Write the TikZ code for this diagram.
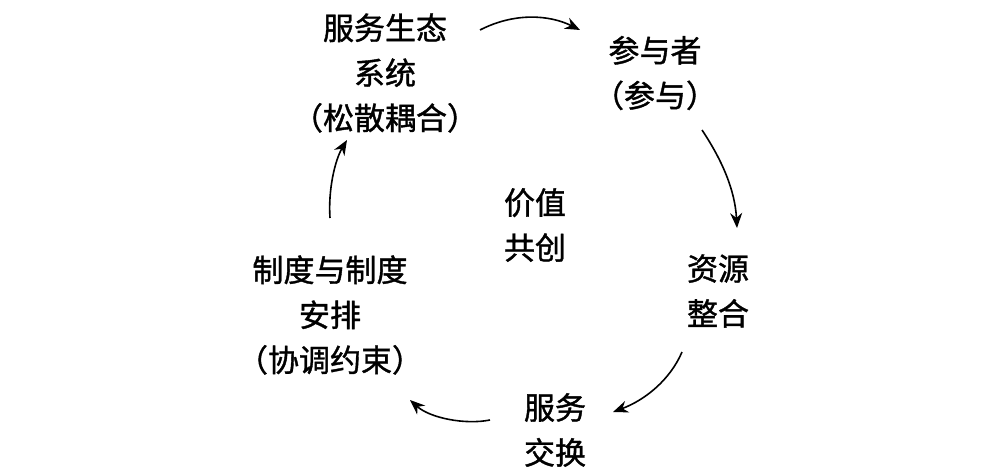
\documentclass[tikz,border=0pt]{standalone}
\usepackage{fontspec}
\setmainfont[FakeBold=1.2]{Noto Sans CJK SC}
\usetikzlibrary{arrows.meta}
\begin{document}
\begin{tikzpicture}[x=1pt,y=-1pt,
  lab/.style={align=center,font=\fontsize{31}{45}\selectfont,inner sep=0pt},
  arr/.style={line width=1.6pt,-{Stealth[length=15pt,width=12pt]}}]
\useasboundingbox (0,0) rectangle (999,475);
\node[lab] (eco) at (385,73) {服务生态\\系统\\（松散耦合）};
\node[lab] (par) at (655,73) {参与者\\（参与）};
\node[lab] (val) at (535,225) {价值\\共创};
\node[lab] (res) at (718,291) {资源\\整合};
\node[lab] (svc) at (555,430) {服务\\交换};
\node[lab] (ins) at (330,315) {制度与制度\\安排\\（协调约束）};
\coordinate (a1) at (480,30); \coordinate (b1) at (580,30);
\coordinate (a2) at (702,130); \coordinate (b2) at (737,228);
\coordinate (a3) at (682,352); \coordinate (b3) at (613,412);
\coordinate (a4) at (490,420); \coordinate (b4) at (410,400);
\coordinate (a5) at (330,218); \coordinate (b5) at (347,140);
\draw[arr] (a1) .. controls (515,12) and (550,15) .. (b1);
\draw[arr] (a2) .. controls (722,160) and (735,190) .. (b2);
\draw[arr] (a3) .. controls (670,380) and (645,400) .. (b3);
\draw[arr] (a4) .. controls (465,425) and (430,418) .. (b4);
\draw[arr] (a5) .. controls (328,190) and (335,160) .. (b5);
\end{tikzpicture}
\end{document}
